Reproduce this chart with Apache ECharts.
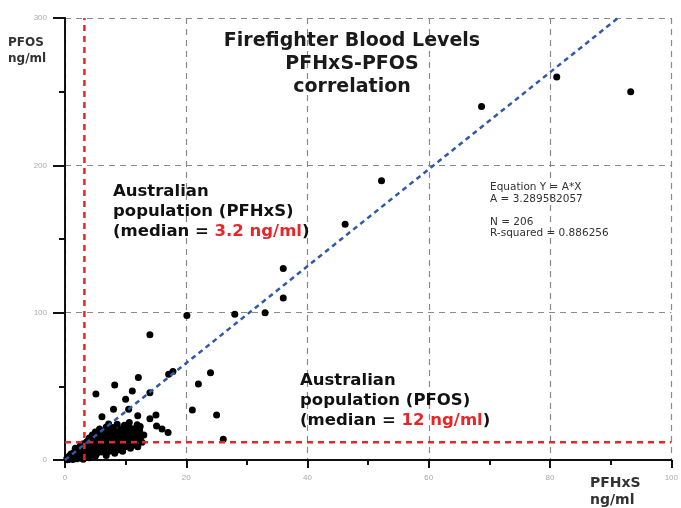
<!DOCTYPE html>
<html>
<head>
<meta charset="utf-8">
<script src="https://cdn.jsdelivr.net/npm/echarts@6/dist/echarts.min.js"></script>
<style>html,body{margin:0;padding:0;background:#fff;}#c{width:681px;height:508px;}</style>
</head>
<body>
<div id="c"></div>
<script>
// ---- data ----
const xTicks = [0, 20, 40, 60, 80, 100];
const yTicks = [0, 100, 200, 300];
const pfhxsMedian = 3.2;   // Australian population PFHxS median
const pfosMedian = 12;     // Australian population PFOS median
const slopeA = 3.289582057;
const nSamples = 206;
const rSquared = 0.886256;

// firefighter samples [PFHxS, PFOS] (ng/ml)
const clusterPoints = [
  [0.3,1],[0.5,2],[0.6,0.5],[0.8,3],[1,1.5],[1,4],[1.2,2.5],[1.4,5],[1.5,1],[1.6,3.5],
  [1.8,6],[2,2],[2,4.5],[2.2,7],[2.3,3],[2.5,5.5],[2.6,1.5],[2.8,8],[3,3.5],[3,6],
  [3.1,9],[3.3,4.5],[3.4,11],[3.5,7],[3.6,2.5],[3.8,13],[3.9,5],[4,9],[4,15],[4.2,7.5],
  [4.3,3.5],[4.5,11],[4.5,17],[4.7,6],[4.8,13],[5,9],[5,19],[5.2,4],[5.3,15],[5.5,7],
  [5.5,11],[5.7,21],[5.8,13],[6,5.5],[6,9],[6,16],[6.2,18],[6.3,11],[6.5,7],[6.5,14],
  [6.7,20],[6.8,3],[7,10],[7,16],[7.2,12],[7.3,6],[7.5,18],[7.5,14],[7.7,8],[7.8,22],
  [8,11],[8,16],[8.2,4.5],[8.3,13],[8.5,19],[8.5,9],[8.7,15],[8.8,7],[9,12],[9,17],
  [9.2,21],[9.3,10],[9.5,14],[9.5,6],[9.7,18],[9.8,12],[10,16],[10,9],[10.2,20],[10.3,13],
  [10.5,11],[10.5,17],[10.7,15],[10.8,8],[11,19],[11,13],[11.2,10],[11.5,16],[11.5,12],[11.8,18],
  [12,14],[12,9],[12.3,20],[12.5,16],[3,0.5],[2,0.8],[1.3,0.3],[4,1.5],[5,2.5],[3.5,12],
  [2.5,9.5],[4.6,14],[1.7,8],[6.9,17],[8.9,13],[7.6,10],[9.9,15],[11.3,14],[12.7,12],[13,17],
  [0.4,0.2],[0.9,2.2],[1.1,0.8],[1.9,1.2],[2.4,2.6],[2.7,4],[3.2,5.2],[3.7,6.4],[4.1,4.6],[4.4,8.3],
  [4.9,10.5],[5.1,6.6],[5.4,12.2],[5.6,8.4],[5.9,10.2],[6.1,12.8],[6.4,15.5],[6.6,9.5],[6.9,13.2],[7.1,19.5],
  [7.4,15.8],[7.9,12.4],[8.1,20.3],[8.4,17.6],[8.6,11.8],[9.1,15.2],[9.4,19.3],[9.6,16.8],[10.1,11.2],[10.4,22.6],
  [10.9,17.8],[11.1,21.2],[11.4,15.4],[11.7,20.8],[12.2,17.2],[3.4,8.2],[4.8,5.2],[5.8,16.8],[6.8,22.4],[7.2,24.5],
  [8.6,24.2],[9.8,23.6],[10.6,25.4],[11.9,24],[12.4,22.8],[2.2,5.6],[2.9,10.8],[3.8,10.4],[4.4,12.6],[5.2,14.6]
];
const outlierPoints = [
  [5.1,44.8],[8.2,50.9],[10,41.2],[8,34.4],[6.1,29.4],[10.5,34.4],[12,30],[14,28],[15,30.5],[15.1,23],
  [16,21],[17,18.6],[21,34],[12,22.6],[14,45.7],[12.1,56],[11.1,46.8],[14,85],[17.1,58.2],[17.8,60],
  [22,51.6],[24,59.3],[25,30.5],[26.1,14],[20.1,98],[28,99],[33,100],[36,110],[36,130],[46.2,160],
  [52.2,189.6],[68.7,240],[81.1,260],[93.3,250]
];
const samples = clusterPoints.concat(outlierPoints);

const xMax = 100, yMax = 300;
const fitLine = [[0, 0], [yMax / slopeA, yMax]];
const pfhxsLine = [[pfhxsMedian, 0], [pfhxsMedian, yMax]];
const pfosLine = [[0, pfosMedian], [xMax, pfosMedian]];

// ---- chart ----
const chart = echarts.init(document.getElementById('c'));
const lblStyle = { color: '#aaa', fontSize: 8, fontFamily: 'Liberation Sans' };
const font = '"DejaVu Sans", sans-serif';
const gridDash = { type: [6, 5], color: '#8a8a8a', width: 1.2 };

chart.setOption({
  animation: false,
  grid: { left: 65, right: 6, top: 18, bottom: 48 },
  xAxis: [{
    type: 'value', min: 0, max: xMax, interval: 20,
    axisLine: { show: true, onZero: false, lineStyle: { color: '#111', width: 2 } },
    axisTick: { show: true, length: 8, lineStyle: { color: '#111', width: 2 } },
    minorTick: { show: true, splitNumber: 2, length: 5, lineStyle: { color: '#111', width: 2 } },
    axisLabel: Object.assign({ margin: 14 }, lblStyle),
    splitLine: { show: true, lineStyle: gridDash }
  }, {
    type: 'value', position: 'top', min: 0, max: xMax, interval: 20,
    axisLine: { show: true, lineStyle: { color: '#111', width: 1.5 } },
    axisTick: { show: true, inside: true, length: 6, lineStyle: { color: '#111', width: 1.5 } },
    minorTick: { show: true, splitNumber: 2, length: 4, lineStyle: { color: '#111', width: 1.5 } },
    axisLabel: { show: false }, splitLine: { show: false }
  }],
  yAxis: [{
    type: 'value', min: 0, max: yMax, interval: 100,
    axisLine: { show: true, onZero: false, lineStyle: { color: '#111', width: 2 } },
    axisTick: { show: true, length: 12, lineStyle: { color: '#111', width: 2 } },
    minorTick: { show: true, splitNumber: 2, length: 6, lineStyle: { color: '#111', width: 2 } },
    axisLabel: Object.assign({ margin: 18 }, lblStyle),
    splitLine: { show: true, lineStyle: gridDash }
  }, {
    type: 'value', position: 'right', min: 0, max: yMax, interval: 100,
    axisLine: { show: true, lineStyle: { color: '#111', width: 2 } },
    axisTick: { show: true, inside: true, length: 8, lineStyle: { color: '#111', width: 2 } },
    minorTick: { show: true, splitNumber: 2, length: 5, lineStyle: { color: '#111', width: 2 } },
    axisLabel: { show: false }, splitLine: { show: false }
  }],
  series: [
    { type: 'scatter', data: samples, symbol: 'circle', symbolSize: 7, z: 3,
      itemStyle: { color: '#000', opacity: 1 } },
    { type: 'line', data: pfhxsLine, symbol: 'none', silent: true, z: 4,
      lineStyle: { color: '#e8262a', width: 2.5, type: [6, 5] } },
    { type: 'line', data: pfosLine, symbol: 'none', silent: true, z: 4,
      lineStyle: { color: '#e8262a', width: 2.5, type: [6, 5] } },
    { type: 'line', data: fitLine, symbol: 'none', silent: true, z: 5,
      lineStyle: { color: '#2f5aa8', width: 2.5, type: [5, 4] } }
  ],
  graphic: [
    { type: 'text', x: 352, y: 30, z: 10,
      style: { text: 'Firefighter Blood Levels\nPFHxS-PFOS\ncorrelation', textAlign: 'center',
        font: 'bold 19px ' + font, fill: '#1a1a1a', lineHeight: 23 } },
    { type: 'text', left: 8, top: 35, z: 10,
      style: { text: 'PFOS\nng/ml', font: 'bold 12px ' + font, fill: '#333', lineHeight: 16 } },
    { type: 'text', left: 590, top: 475, z: 10,
      style: { text: 'PFHxS\nng/ml', font: 'bold 14px ' + font, fill: '#333', lineHeight: 17 } },
    { type: 'text', left: 113, top: 183, z: 10,
      style: { text: '{b|Australian}\n{b|population (PFHxS)}\n{b|(median = }{r|' + pfhxsMedian + ' ng/ml}{b|)}',
        rich: { b: { font: 'bold 16.5px ' + font, fill: '#111', lineHeight: 20 },
                r: { font: 'bold 16.5px ' + font, fill: '#e8262a', lineHeight: 20 } } } },
    { type: 'text', left: 300, top: 372, z: 10,
      style: { text: '{b|Australian}\n{b|population (PFOS)}\n{b|(median = }{r|' + pfosMedian + ' ng/ml}{b|)}',
        rich: { b: { font: 'bold 16.5px ' + font, fill: '#111', lineHeight: 20 },
                r: { font: 'bold 16.5px ' + font, fill: '#e8262a', lineHeight: 20 } } } },
    { type: 'text', left: 490, top: 182, z: 10,
      style: { text: 'Equation Y = A*X\nA = ' + slopeA + '\n\nN = ' + nSamples + '\nR-squared = ' + rSquared,
        font: '10.5px ' + font, fill: '#333', lineHeight: 11.5 } }
  ]
});
</script>
</body>
</html>
